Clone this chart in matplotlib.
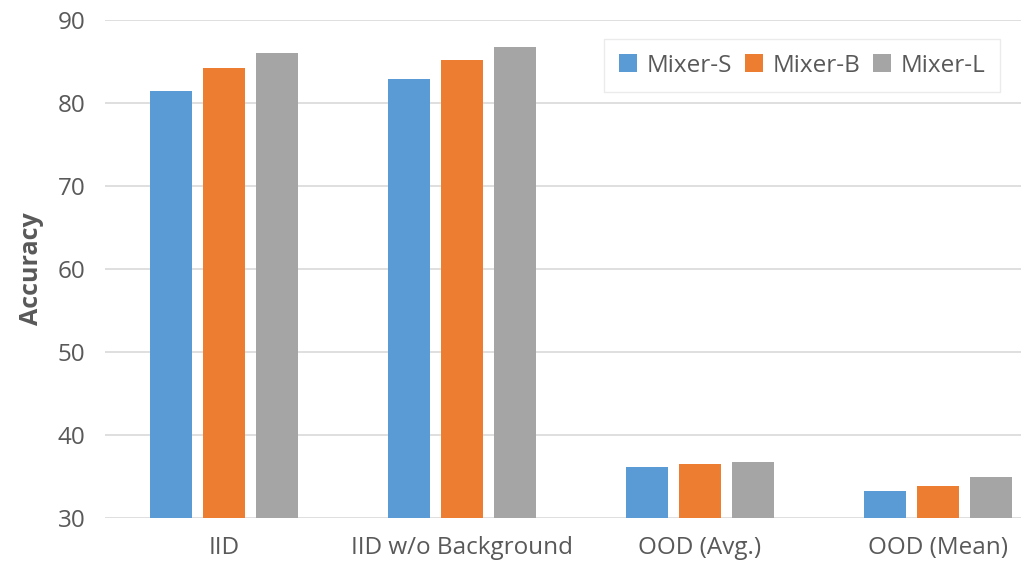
import matplotlib
matplotlib.use("Agg")
import matplotlib.pyplot as plt
import numpy as np

categories = ["IID", "IID w/o Background", "OOD (Avg.)", "OOD (Mean)"]
series_names = ["Mixer-S", "Mixer-B", "Mixer-L"]
mixer_s = [81.4, 82.9, 36.1, 33.2]
mixer_b = [84.2, 85.2, 36.5, 33.8]
mixer_l = [86.0, 86.7, 36.7, 35.0]
colors = ["#5B9BD5", "#ED7D31", "#A5A5A5"]
yticks = [30, 40, 50, 60, 70, 80, 90]

plt.rcParams['font.family'] = ['Open Sans', 'DejaVu Sans']
text_color = "#595959"

fig = plt.figure(figsize=(10.26, 5.65), dpi=100)
ax = fig.add_axes([105/1026, 47/565, (1021-105)/1026, (518-20)/565])

x = np.arange(len(categories))
width = 0.176
step = 0.223
for i, (vals, name, c) in enumerate(zip([mixer_s, mixer_b, mixer_l], series_names, colors)):
    ax.bar(x + (i - 1) * step, np.array(vals) - 30, width, bottom=30, color=c, label=name, zorder=3)

ax.set_ylim(30, 90)
ax.set_xlim(-0.5, 3.35)
ax.set_yticks(yticks)
ax.set_xticks(x)
ax.set_xticklabels(categories)
ax.yaxis.grid(True, color="#D9D9D9", linewidth=1.2, zorder=0)
for s in ax.spines.values():
    s.set_visible(False)
ax.tick_params(axis='both', length=0, colors=text_color, labelsize=17.5)
ax.tick_params(axis='y', pad=14)
ax.tick_params(axis='x', pad=13)
ax.set_ylabel("Accuracy", fontsize=18, fontweight='bold', color=text_color, labelpad=10)

leg = ax.legend(loc='upper right', bbox_to_anchor=(0.977, 0.962), borderaxespad=0,
                ncol=3, fontsize=17.5,
                frameon=True, fancybox=False, edgecolor="#E6E6E6", handlelength=0.75,
                handleheight=0.75, columnspacing=0.5, handletextpad=0.4, borderpad=0.6)
leg.get_frame().set_linewidth(1.0)
for t in leg.get_texts():
    t.set_color(text_color)

fig.savefig("out.png", dpi=100, facecolor="white")
